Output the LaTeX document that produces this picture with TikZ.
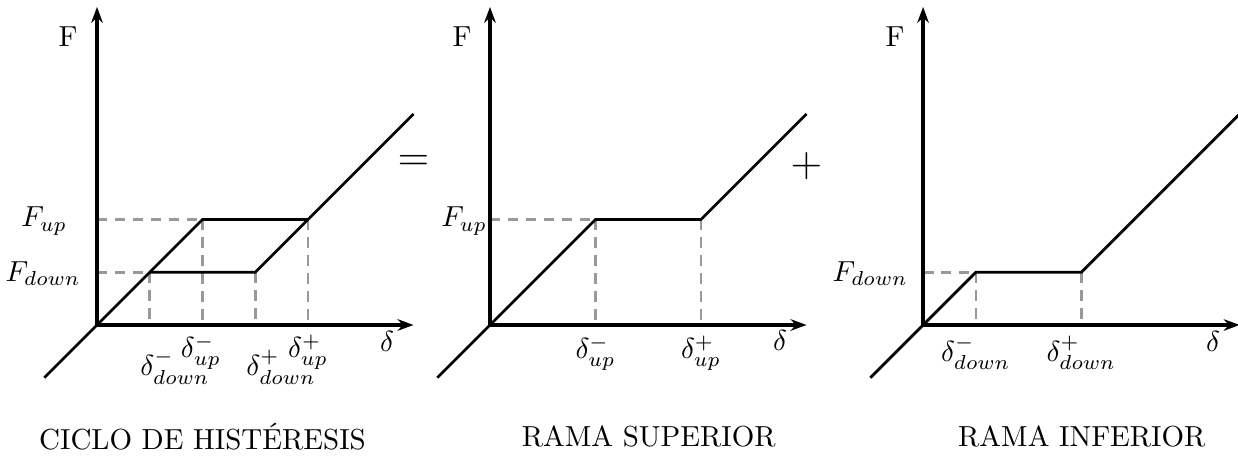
\documentclass[tikz,border=0pt]{standalone}
\usetikzlibrary{arrows.meta}
\begin{document}
\begin{tikzpicture}[x=0.64cm,y=0.64cm,
  axis/.style={line width=1.1pt,-{Stealth[length=5.5pt,width=4pt]}},
  curve/.style={line width=0.95pt},
  guide/.style={black!40,line width=0.9pt,dash pattern=on 3.6pt off 2.6pt},
  lbl/.style={inner sep=0pt}]
\useasboundingbox (-1.839,-2.465) rectangle (21.63,6.161);

% ---------- panel 1: hysteresis loop ----------
\begin{scope}
  \coordinate (a0) at (0,0);
  \coordinate (aY) at (0,6.03);
  \coordinate (aX) at (6,0);
  \coordinate (aS) at (-1,-1);
  \coordinate (aP) at (1,1);
  \coordinate (aQ) at (2,2);
  \coordinate (aR) at (3,1);
  \coordinate (aT) at (4,2);
  \coordinate (aE) at (6,4);
  \draw[guide] (a0 |- aQ) -- (aQ);
  \draw[guide] (a0 |- aP) -- (aP);
  \draw[guide] (aP) -- (aP |- a0);
  \draw[guide] (aQ) -- (aQ |- a0);
  \draw[guide] (aR) -- (aR |- a0);
  \draw[guide] (aT) -- (aT |- a0);
  \draw[axis] (a0) -- (aY);
  \draw[axis] (a0) -- (aX);
  \draw[curve] (aS) -- (aP) -- (aQ) -- (aT) -- (aE);
  \draw[curve] (aP) -- (aR) -- (aT);
  \node[lbl] (aF) at (-0.55,5.46) {F};
  \node[lbl] (aFu) at (-1.0,1.97) {$F_{up}$};
  \node[lbl] (aFd) at (-1.02,0.97) {$F_{down}$};
  \node[lbl] (ad) at (5.5,-0.32) {$\delta$};
  \node[lbl] (adm) at (1.48,-0.80) {$\delta^-_{down}$};
  \node[lbl] (aum) at (1.97,-0.51) {$\delta^-_{up}$};
  \node[lbl] (adp) at (3.49,-0.80) {$\delta^+_{down}$};
  \node[lbl] (aup) at (4.0,-0.51) {$\delta^+_{up}$};
  \node (acap) at (2.0,-2.12) {CICLO DE HISTÉRESIS};
  \node (eq) at (6.0,3.07) {\Large$=$};
\end{scope}

% ---------- panel 2: upper branch ----------
\begin{scope}[shift={(7.45,0)}]
  \coordinate (b0) at (0,0);
  \coordinate (bY) at (0,6.03);
  \coordinate (bX) at (6,0);
  \coordinate (bS) at (-1,-1);
  \coordinate (bQ) at (2,2);
  \coordinate (bT) at (4,2);
  \coordinate (bE) at (6,4);
  \draw[guide] (b0 |- bQ) -- (bQ);
  \draw[guide] (bQ) -- (bQ |- b0);
  \draw[guide] (bT) -- (bT |- b0);
  \draw[axis] (b0) -- (bY);
  \draw[axis] (b0) -- (bX);
  \draw[curve] (bS) -- (bQ) -- (bT) -- (bE);
  \node[lbl] (bF) at (-0.53,5.46) {F};
  \node[lbl] (bFu) at (-0.49,1.97) {$F_{up}$};
  \node[lbl] (bd) at (5.5,-0.30) {$\delta$};
  \node[lbl] (bum) at (2.0,-0.53) {$\delta^-_{up}$};
  \node[lbl] (bup) at (4.0,-0.53) {$\delta^+_{up}$};
  \node (bcap) at (3.01,-2.12) {RAMA SUPERIOR};
  \node (plus) at (6.0,3.01) {\Large$+$};
\end{scope}

% ---------- panel 3: lower branch ----------
\begin{scope}[shift={(15.66,0)}]
  \coordinate (c0) at (0,0);
  \coordinate (cY) at (0,6.03);
  \coordinate (cX) at (6,0);
  \coordinate (cS) at (-1,-1);
  \coordinate (cP) at (1,1);
  \coordinate (cR) at (3,1);
  \coordinate (cE) at (6,4);
  \draw[guide] (c0 |- cP) -- (cP);
  \draw[guide] (cP) -- (cP |- c0);
  \draw[guide] (cR) -- (cR |- c0);
  \draw[axis] (c0) -- (cY);
  \draw[axis] (c0) -- (cX);
  \draw[curve] (cS) -- (cP) -- (cR) -- (cE);
  \node[lbl] (cF) at (-0.53,5.46) {F};
  \node[lbl] (cFd) at (-1.0,0.97) {$F_{down}$};
  \node[lbl] (cd) at (5.5,-0.32) {$\delta$};
  \node[lbl] (cdm) at (1.0,-0.53) {$\delta^-_{down}$};
  \node[lbl] (cdp) at (3.0,-0.53) {$\delta^+_{down}$};
  \node (ccap) at (3.01,-2.12) {RAMA INFERIOR};
\end{scope}
\end{tikzpicture}
\end{document}
